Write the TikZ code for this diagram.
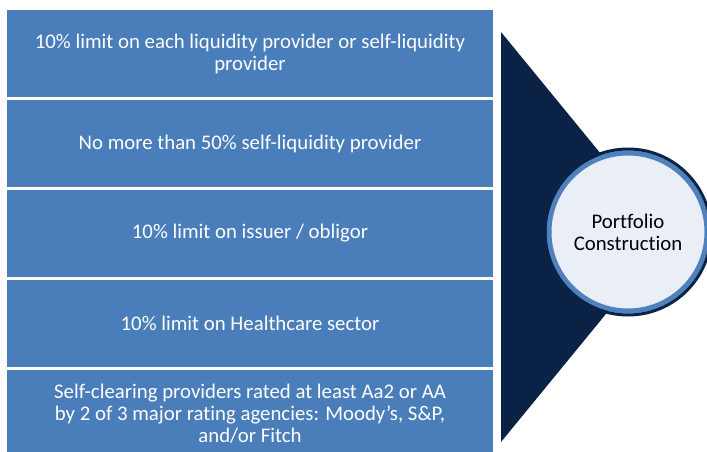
\documentclass[tikz,border=0pt]{standalone}
\usepackage{fontspec}
\setmainfont[Ligatures=NoCommon]{Carlito}
\usetikzlibrary{positioning}

\definecolor{boxblue}{HTML}{4A7EBB}
\definecolor{navy}{HTML}{0A2245}
\definecolor{ringblue}{HTML}{4F81BD}
\definecolor{hubfill}{HTML}{EAEFF7}

\begin{document}
\begin{tikzpicture}[
    x=1pt, y=-1pt,
    every node/.style={font=\fontsize{20.8}{22}\selectfont, align=center, outer sep=0pt, inner sep=0pt},
    rule/.style={fill=boxblue, text=white, minimum width=486pt, minimum height=87pt},
    hub/.style={circle, fill=hubfill, draw=ringblue, line width=5pt, minimum size=158pt},
    node distance=3pt
]
    \useasboundingbox (0,0) rectangle (707,452);

    % Triangle behind the circle
    \fill[navy] (501,32) -- (501,442) -- (669,237) -- cycle;

    % Box 1: liquidity providers
    \node[rule, anchor=north west] (liquidity) at (7,10) {10\% limit on each liquidity provider or self-liquidity\\provider};

    % Box 2: self-liquidity share
    \node[rule, below=of liquidity] (selfliq) {No more than 50\% self-liquidity provider};

    % Box 3: issuer
    \node[rule, below=of selfliq] (issuer) {10\% limit on issuer / obligor};

    % Box 4: sector
    \node[rule, below=of issuer] (sector) {10\% limit on Healthcare sector};

    % Box 5: ratings (cut by the page edge)
    \node[rule, below=of sector] (rating) {Self-clearing providers rated at least Aa2 or AA\\by 2 of 3 major rating agencies: Moody’s, S\&P,\\and/or Fitch};

    % Circle: Portfolio Construction
    \node[hub] (hub) at (628,232) {Portfolio\\Construction};
    \draw[navy, line width=3pt] (hub.center) circle (83pt);

\end{tikzpicture}
\end{document}
